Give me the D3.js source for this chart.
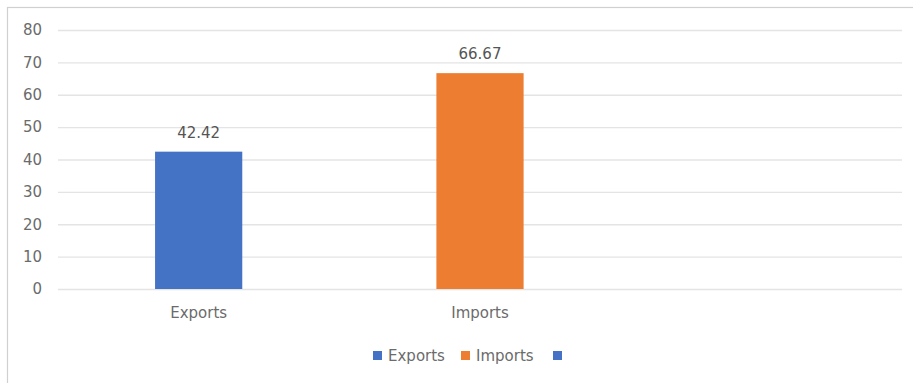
<!DOCTYPE html>
<html>
<head>
<meta charset="utf-8">
<script src="https://cdn.jsdelivr.net/npm/d3@7"></script>
<style>
  body { margin: 0; background: #fff; }
  text { font-family: "DejaVu Sans", sans-serif; }
</style>
</head>
<body>
<div id="plot"></div>
<script>
// chart data
const categories = ["Exports", "Imports", ""];
const values = [42.42, 66.67, null];
const colors = ["#4472C4", "#ED7D31", "#4472C4"];
const legendLabels = ["Exports", "Imports", ""];
const yTicks = [0, 10, 20, 30, 40, 50, 60, 70, 80];

const W = 913, H = 383;
const font = "'DejaVu Sans', sans-serif";
const svg = d3.select("#plot").append("svg")
  .attr("width", W).attr("height", H);

// chart frame (top and left edges visible)
svg.append("rect")
  .attr("x", 7.5).attr("y", 7.5)
  .attr("width", W + 10).attr("height", H + 10)
  .attr("fill", "#fff")
  .attr("stroke", "#d0d0d0").attr("stroke-width", 1.2);

const x = d3.scaleBand().domain(categories).range([58, 902]).padding(0);
const y = d3.scaleLinear().domain([0, 80]).range([289, 30]);

// gridlines
svg.append("g").selectAll("line").data(yTicks).join("line")
  .attr("x1", 58).attr("x2", 902)
  .attr("y1", d => y(d) + 0.5).attr("y2", d => y(d) + 0.5)
  .attr("stroke", "#e4e4e4").attr("stroke-width", 1.3);

// y axis labels
const yAxis = svg.append("g")
  .attr("transform", "translate(42,0)")
  .call(d3.axisLeft(y).tickValues(yTicks).tickSize(0).tickPadding(0));
yAxis.select(".domain").remove();
yAxis.selectAll("text")
  .attr("fill", "#6b6b6b").style("font-size", "15px")
  .style("font-family", font);

// x axis labels
const xAxis = svg.append("g")
  .attr("transform", "translate(0,289)")
  .call(d3.axisBottom(x).tickSize(0).tickPadding(18));
xAxis.select(".domain").remove();
xAxis.selectAll("text")
  .attr("fill", "#6b6b6b").style("font-size", "15px")
  .style("font-family", font);

const barW = x.bandwidth() * 0.31;
const data = categories.map((c, i) => ({ c, v: values[i], color: colors[i] }))
  .filter(d => d.v != null);

svg.selectAll(".bar").data(data).join("rect")
  .attr("class", "bar")
  .attr("x", d => x(d.c) + x.bandwidth() / 2 - barW / 2)
  .attr("y", d => y(d.v))
  .attr("width", barW)
  .attr("height", d => y(0) - y(d.v))
  .attr("fill", d => d.color);

svg.selectAll(".label").data(data).join("text")
  .attr("class", "label")
  .attr("x", d => x(d.c) + x.bandwidth() / 2)
  .attr("y", d => y(d.v) - 14)
  .attr("text-anchor", "middle")
  .attr("fill", "#555")
  .style("font-size", "15px")
  .text(d => d.v.toFixed(2));

// legend
const legendX = [373, 461, 553];
const lg = svg.append("g");
legendLabels.forEach((t, i) => {
  lg.append("rect")
    .attr("x", legendX[i]).attr("y", 351)
    .attr("width", 9).attr("height", 9)
    .attr("fill", colors[i]);
  lg.append("text")
    .attr("x", legendX[i] + 15).attr("y", 361)
    .attr("fill", "#6b6b6b").style("font-size", "15px")
    .text(t);
});
</script>
</body>
</html>
